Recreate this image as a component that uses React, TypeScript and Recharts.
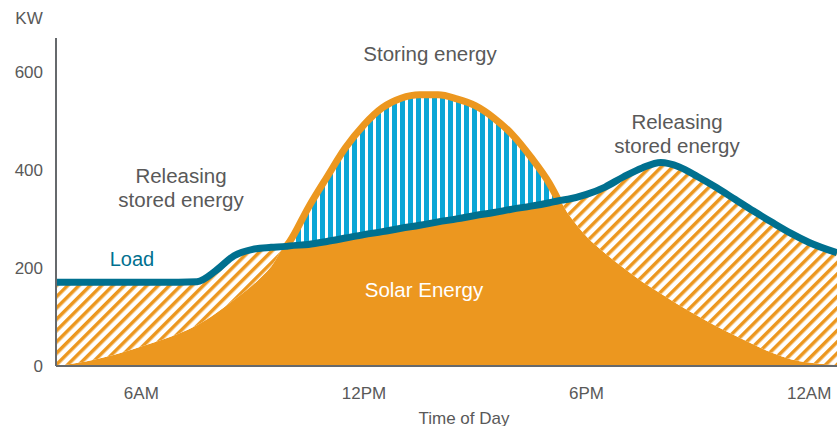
import { ComposedChart, Area, Line, XAxis, YAxis } from "recharts";

// hour of day (24 = midnight)
const hours = [
  3.7, 4, 5, 6, 7, 7.5, 8, 8.5, 9, 9.5, 9.9, 10, 10.5, 11, 11.5, 12, 12.5, 13,
  13.5, 14, 14.5, 15, 15.5, 16, 16.5, 17, 17.25, 17.5, 18, 18.5, 19, 19.5, 20,
  20.5, 21, 21.5, 22, 22.5, 23, 23.5, 24, 24.75
];

const solarKw = [
  0, 3, 18, 40, 66, 83, 107, 135, 165, 203, 244, 254, 323, 385, 445, 492, 527,
  546, 553, 553, 545, 531, 506, 472, 426, 372, 337, 311, 264, 230, 200, 172,
  148, 124, 102, 81, 62, 44, 27, 14, 7, 2
];

const loadKw = [
  171, 171, 171, 171, 171, 172, 194, 225, 238, 242, 244, 245, 248, 254, 261,
  268, 274, 281, 287, 294, 300, 307, 313, 320, 326, 333, 337, 340, 350, 365,
  386, 404, 415, 406, 386, 364, 340, 316, 293, 271, 252, 231
];

const yTicks = [0, 200, 400, 600];
const xTicks = [6, 12, 18, 24];
const xTickLabels: Record<number, string> = {
  6: "6AM",
  12: "12PM",
  18: "6PM",
  24: "12AM"
};

const ORANGE = "#EC971F";
const TEAL = "#00708F";
const BLUE = "#0BA6D6";
const GRAY = "#595959";

const data = hours.map((hour, i) => {
  const s = solarKw[i];
  const l = loadKw[i];
  return {
    hour,
    load: l,
    base: Math.min(s, l),
    storing: s > l ? [l, s] : [l, l],
    releasing: l > s ? [s, l] : [l, l],
    solarEdge: s >= l ? s : null
  };
});

const textStyle = {
  fontFamily: "'Liberation Sans', Arial, sans-serif"
};

function App() {
  return (
    <div style={{ position: "absolute", left: 0, top: 0, width: 837, height: 426 }}>
      <ComposedChart
        width={837}
        height={426}
        data={data}
        margin={{ top: 38, right: 0, bottom: 0, left: 0 }}
        style={textStyle}
      >
        <defs>
          <pattern id="storeStripes" width="8" height="8" patternUnits="userSpaceOnUse">
            <rect width="8" height="8" fill="#fff" />
            <rect width="5" height="8" fill={BLUE} />
          </pattern>
          <pattern
            id="releaseHatch"
            width="8"
            height="8"
            patternUnits="userSpaceOnUse"
            patternTransform="rotate(45)"
          >
            <rect width="8" height="8" fill="#fff" />
            <rect width="3.5" height="8" fill={ORANGE} />
          </pattern>
        </defs>
        <XAxis
          dataKey="hour"
          type="number"
          domain={[3.7, 24.75]}
          ticks={xTicks}
          tickFormatter={(v) => xTickLabels[v]}
          tickLine={false}
          tickMargin={15}
          height={60}
          axisLine={{ stroke: "#66696c", strokeWidth: 2 }}
          tick={{ fill: GRAY, fontSize: 17 }}
        />
        <YAxis
          type="number"
          domain={[0, 669]}
          ticks={yTicks}
          width={56}
          tickLine={false}
          tickMargin={7}
          axisLine={{ stroke: "#66696c", strokeWidth: 2 }}
          tick={{ fill: GRAY, fontSize: 17 }}
        />
        <Area
          dataKey="base"
          type="monotone"
          fill={ORANGE}
          fillOpacity={1}
          stroke="none"
          isAnimationActive={false}
        />
        <Area
          dataKey="storing"
          type="monotone"
          fill="url(#storeStripes)"
          fillOpacity={1}
          stroke="none"
          isAnimationActive={false}
        />
        <Area
          dataKey="releasing"
          type="monotone"
          fill="url(#releaseHatch)"
          fillOpacity={1}
          stroke="none"
          isAnimationActive={false}
        />
        <Line
          dataKey="solarEdge"
          type="monotone"
          stroke={ORANGE}
          strokeWidth={7}
          dot={false}
          connectNulls={false}
          isAnimationActive={false}
        />
        <Line
          dataKey="load"
          type="monotone"
          stroke={TEAL}
          strokeWidth={7}
          dot={false}
          isAnimationActive={false}
        />
      </ComposedChart>

      {/* annotations */}
      <svg
        width={837}
        height={426}
        style={{ position: "absolute", left: 0, top: 0, pointerEvents: "none", ...textStyle }}
      >
        <text x={29} y={18} fontSize={17} fill={GRAY} textAnchor="middle" dominantBaseline="central">
          KW
        </text>
        <text x={430} y={53} fontSize={20.5} fill={GRAY} textAnchor="middle" dominantBaseline="central">
          Storing energy
        </text>
        <text x={181} y={175} fontSize={20.5} fill={GRAY} textAnchor="middle" dominantBaseline="central">
          Releasing
        </text>
        <text x={181} y={199} fontSize={20.5} fill={GRAY} textAnchor="middle" dominantBaseline="central">
          stored energy
        </text>
        <text x={677} y={121} fontSize={20.5} fill={GRAY} textAnchor="middle" dominantBaseline="central">
          Releasing
        </text>
        <text x={677} y={145} fontSize={20.5} fill={GRAY} textAnchor="middle" dominantBaseline="central">
          stored energy
        </text>
        <text x={132} y={259} fontSize={20} fill={TEAL} textAnchor="middle" dominantBaseline="central">
          Load
        </text>
        <text x={424} y={289} fontSize={20.5} fill="#fff" textAnchor="middle" dominantBaseline="central">
          Solar Energy
        </text>
        <text x={464} y={418} fontSize={17} fill={GRAY} textAnchor="middle" dominantBaseline="central">
          Time of Day
        </text>
      </svg>
    </div>
  );
}

export default App;
